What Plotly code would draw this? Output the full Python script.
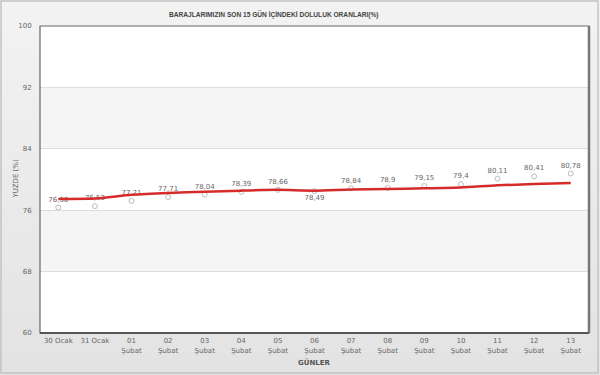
import plotly.graph_objects as go

categories = ["30 Ocak", "31 Ocak", "01<br>Şubat", "02<br>Şubat", "03<br>Şubat", "04<br>Şubat",
              "05<br>Şubat", "06<br>Şubat", "07<br>Şubat", "08<br>Şubat", "09<br>Şubat",
              "10<br>Şubat", "11<br>Şubat", "12<br>Şubat", "13<br>Şubat"]
values = [76.36, 76.53, 77.21, 77.71, 78.04, 78.39, 78.66, 78.49, 78.84, 78.9, 79.15, 79.4, 80.11, 80.41, 80.78]
trend = [77.47, 77.52, 78.0, 78.25, 78.4, 78.55, 78.65, 78.55, 78.7, 78.75, 78.85, 78.95, 79.25, 79.4, 79.55]
label_pos = ["top center"] * 7 + ["bottom center"] + ["top center"] * 7
y_ticks = [60, 68, 76, 84, 92, 100]

x_idx = list(range(len(categories)))
labels = [f"{v:g}".replace(".", ",") for v in values]

FONT = "DejaVu Sans"
W, H = 600, 375
ML, MR, MT, MB = 40, 11, 26, 42
PW, PH = W - ML - MR, H - MT - MB


def px_x(p):
    return (p - ML) / PW


def px_y(p):
    return (H - MB - p) / PH


fig = go.Figure()

fig.add_trace(go.Scatter(
    x=x_idx, y=values, mode="markers+text",
    text=labels, textposition=label_pos,
    textfont=dict(family=FONT, size=7, color="#666666"),
    marker=dict(symbol="circle-open", size=5, color="#bbbbbb", line=dict(width=1)),
    cliponaxis=False, hoverinfo="skip", showlegend=False,
))
fig.add_trace(go.Scatter(
    x=x_idx, y=trend, mode="lines",
    line=dict(color="#d62b2b", width=2.5, shape="spline", smoothing=0.6),
    hoverinfo="skip", showlegend=False,
))

shapes = []
# background gradient
n = 30
for i in range(n):
    t = i / (n - 1)
    c = int(round(0xf4 - (0xf4 - 0xe2) * t))
    shapes.append(dict(type="rect", xref="paper", yref="paper",
                       x0=-0.1, x1=1.1, y0=1.2 - (i + 1) * 1.4 / n, y1=1.2 - i * 1.4 / n,
                       fillcolor=f"rgb({c},{c},{c})", line=dict(width=0), layer="below"))
# outer frame
shapes.append(dict(type="rect", xref="paper", yref="paper",
                   x0=px_x(1), x1=px_x(598), y0=px_y(373), y1=px_y(1),
                   line=dict(color="#c4c4c4", width=1.5), layer="below"))
# plot area bands
for lo, hi, col in [(60, 68, "#ffffff"), (68, 76, "#f5f5f5"), (76, 84, "#ffffff"),
                    (84, 92, "#f5f5f5"), (92, 100, "#ffffff")]:
    shapes.append(dict(type="rect", xref="paper", yref="y", x0=0, x1=1, y0=lo, y1=hi,
                       fillcolor=col, line=dict(width=0), layer="below"))
# plot border
shapes.append(dict(type="rect", xref="paper", yref="paper", x0=0, x1=1, y0=0, y1=1,
                   line=dict(color="#666666", width=1.2), layer="above"))
shapes.append(dict(type="line", xref="paper", yref="paper", x0=1, x1=1, y0=0, y1=1,
                   line=dict(color="#777777", width=2.5), layer="above"))
shapes.append(dict(type="line", xref="paper", yref="paper", x0=0, x1=1, y0=0, y1=0,
                   line=dict(color="#555555", width=2), layer="above"))

annotations = [
    dict(text="<b>BARAJLARIMIZIN SON 15 GÜN İÇİNDEKİ DOLULUK ORANLARI(%)</b>",
         xref="paper", yref="paper", x=px_x(274), y=px_y(15),
         yanchor="middle", xanchor="center", showarrow=False,
         font=dict(family="Liberation Sans", size=6.6, color="#444444")),
    dict(text="YUZDE (%)", xref="paper", yref="paper", x=px_x(15), y=0.5,
         xanchor="center", yanchor="middle", textangle=-90, showarrow=False,
         font=dict(family=FONT, size=7, color="#666666")),
    dict(text="<b>GÜNLER</b>", xref="paper", yref="paper", x=0.5, y=px_y(362),
         xanchor="center", yanchor="middle", showarrow=False,
         font=dict(family=FONT, size=7, color="#555555")),
]

fig.update_layout(
    width=W, height=H,
    margin=dict(l=ML, r=MR, t=MT, b=MB),
    paper_bgcolor="#ececec", plot_bgcolor="rgba(0,0,0,0)",
    shapes=shapes,
    font=dict(family=FONT, size=7, color="#666666"),
    xaxis=dict(range=[-0.5, 14.5], tickmode="array", tickvals=x_idx, ticktext=categories,
               showgrid=False, zeroline=False, showline=False,
               ticks="outside", ticklen=1, tickcolor="rgba(0,0,0,0)",
               tickfont=dict(family=FONT, size=7, color="#666666"), fixedrange=True),
    yaxis=dict(range=[60, 100], tickmode="array", tickvals=y_ticks,
               showgrid=True, gridcolor="#dddddd", gridwidth=1, zeroline=False,
               showline=False, ticks="outside", ticklen=6, tickcolor="rgba(0,0,0,0)",
               tickfont=dict(family=FONT, size=7, color="#666666"),
               fixedrange=True),
    annotations=annotations,
)
fig.write_html("out.html", post_script="document.body.style.margin='0';",
               config={"displayModeBar": False, "staticPlot": True})
